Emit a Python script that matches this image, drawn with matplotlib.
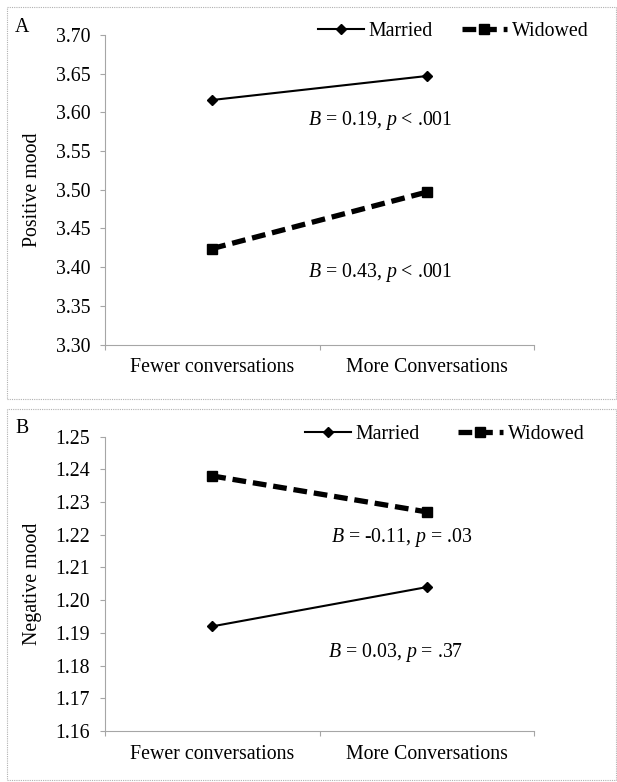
import matplotlib.pyplot as plt
from matplotlib.patches import Rectangle

plt.rcParams['font.family'] = ['Liberation Serif', 'DejaVu Serif']
plt.rcParams['mathtext.fontset'] = 'custom'
plt.rcParams['mathtext.rm'] = 'Liberation Serif'
plt.rcParams['mathtext.it'] = 'Liberation Serif:italic'

categories = ['Fewer conversations', 'More Conversations']
series_names = ['Married', 'Widowed']

pos_married = [3.616, 3.647]
pos_widowed = [3.424, 3.497]
pos_ticks = [3.30, 3.35, 3.40, 3.45, 3.50, 3.55, 3.60, 3.65, 3.70]
pos_notes = ['$\\it{B}$ = 0.19, $\\it{p}$ < .001', '$\\it{B}$ = 0.43, $\\it{p}$ < .001']

neg_married = [1.192, 1.204]
neg_widowed = [1.238, 1.227]
neg_ticks = [1.16, 1.17, 1.18, 1.19, 1.20, 1.21, 1.22, 1.23, 1.24, 1.25]
neg_notes = ['$\\it{B}$ = -0.11, $\\it{p}$ = .03', '$\\it{B}$ = 0.03, $\\it{p}$ = .37']

W, H = 617, 782
FS = 14.3
fig = plt.figure(figsize=(W / 100, H / 100), dpi=100)


def fx(px):
    return px / W


def fy(py):
    return 1 - py / H


def draw_panel(rect, married, widowed, ticks, ylabel, letter, letter_y, notes, note_xy, leg_xy, colspace):
    ax = fig.add_axes(rect)
    x = [0, 1]
    ax.plot(x, married, color='black', lw=1.5, marker='D', ms=5.5, label=series_names[0])
    ax.plot(x, widowed, color='black', lw=3.8, ls=(0, (2.6, 1.3)), marker='s', ms=7.5, label=series_names[1])
    ax.set_xlim(-0.5, 1.5)
    ax.set_ylim(ticks[0], ticks[-1])
    ax.set_yticks(ticks)
    ax.set_yticklabels(['{:.2f}'.format(t) for t in ticks], fontsize=FS)
    ax.set_xticks([-0.5, 0.5, 1.5])
    ax.set_xticklabels([])
    ax.set_xticks(x, minor=True)
    ax.set_xticklabels(categories, minor=True, fontsize=FS)
    ax.tick_params(axis='x', which='minor', length=0, pad=10)
    ax.tick_params(axis='both', which='major', length=3.6, width=0.8, color='#a6a6a6', direction='out')
    ax.tick_params(axis='y', pad=7)
    for s in ['top', 'right']:
        ax.spines[s].set_visible(False)
    for s in ['left', 'bottom']:
        ax.spines[s].set_color('#a6a6a6')
    ax.set_ylabel(ylabel, fontsize=FS)
    ax.yaxis.set_label_coords(-0.147, 0.5)
    ax.legend(loc='center right', bbox_to_anchor=leg_xy, ncol=2, frameon=False,
              fontsize=FS, handlelength=2.3, columnspacing=colspace, handletextpad=0.25,
              borderaxespad=0, borderpad=0)
    for (nx, ny), n in zip(note_xy, notes):
        ax.text(nx, ny, n, fontsize=FS, ha='center', va='center', transform=ax.transAxes)
    fig.text(fx(22), fy(letter_y), letter, fontsize=FS, ha='center', va='center')
    return ax


rect_a = [fx(105), fy(344.5), fx(534) - fx(105), fy(35) - fy(344.5)]
rect_b = [fx(105), fy(731), fx(534) - fx(105), fy(436.7) - fy(731)]

draw_panel(rect_a, pos_married, pos_widowed, pos_ticks, 'Positive mood', 'A', 27,
           pos_notes, [(0.641, 0.723), (0.641, 0.234)], (1.128, 1.011), 1.45)
draw_panel(rect_b, neg_married, neg_widowed, neg_ticks, 'Negative mood', 'B', 429,
           neg_notes, [(0.692, 0.659), (0.678, 0.268)], (1.119, 1.008), 1.9)

for y0, y1 in [(7, 399), (409, 780)]:
    fig.patches.append(Rectangle((fx(7), fy(y1)), fx(609), fy(y0) - fy(y1), transform=fig.transFigure,
                                 fill=False, ec='#b0b0b0', lw=0.8, ls=(0, (1, 1))))

fig.savefig('out.png', dpi=100)
